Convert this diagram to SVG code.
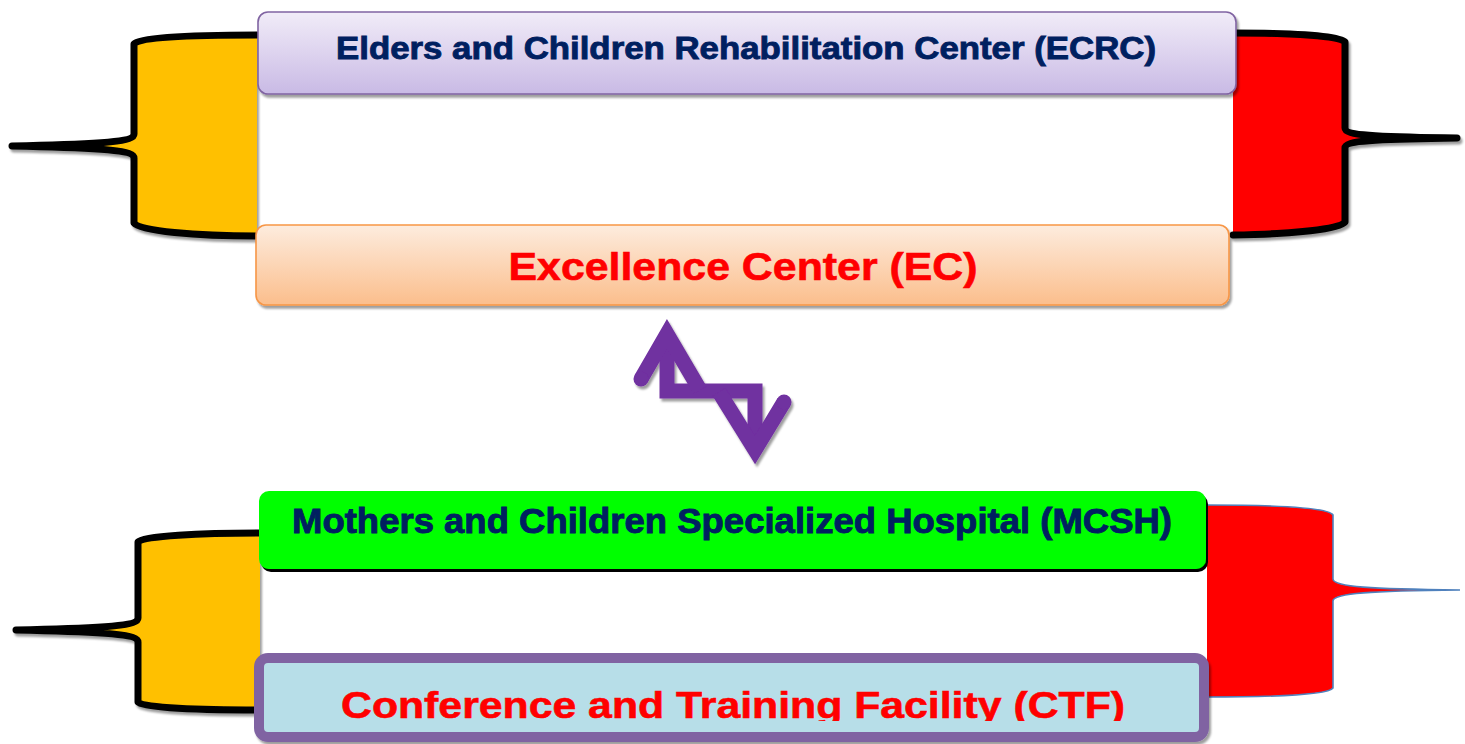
<svg xmlns="http://www.w3.org/2000/svg" width="1465" height="744" viewBox="0 0 1465 744">
<defs>
<linearGradient id="gPurple" x1="0" y1="0" x2="0" y2="1">
<stop offset="0" stop-color="#F1ECF8"/>
<stop offset="1" stop-color="#C9BAE5"/>
</linearGradient>
<linearGradient id="gOrange" x1="0" y1="0" x2="0" y2="1">
<stop offset="0" stop-color="#FDECDE"/>
<stop offset="1" stop-color="#FBBE8C"/>
</linearGradient>
<filter id="shGray" x="-5%" y="-20%" width="110%" height="140%">
<feDropShadow dx="2" dy="3" stdDeviation="0.8" flood-color="#000" flood-opacity="0.38"/>
</filter>
<filter id="shBlack" x="-5%" y="-20%" width="110%" height="140%">
<feDropShadow dx="2" dy="3" stdDeviation="0.5" flood-color="#000" flood-opacity="1"/>
</filter>
<clipPath id="ctfClip"><rect x="262" y="662" width="940" height="59"/></clipPath>
<style>
.brace{stroke:#000;stroke-width:7;stroke-linecap:round;stroke-linejoin:round}
.lbl{font-family:"Liberation Sans",Arial,sans-serif;font-weight:bold;text-anchor:middle}
.navy{fill:#002060;stroke:#002060;stroke-width:0.9}
.red{fill:#FF0000;stroke:#FF0000;stroke-width:0.6}
.arr{fill:none;stroke:#7030A0;stroke-width:15;stroke-linejoin:miter}
</style>
</defs>
<rect width="1465" height="744" fill="#fff"/>

<g id="brace-top-left" filter="url(#shGray)">
<path class="brace" fill="#FFC000" d="M 257 35 C 195 35 140 37 134 44 L 134 134 C 134 141 112 144 12 146 C 112 148 134 151 134 158 L 134 223 C 140 231 195 236 257 236"/>
</g>
<g id="brace-top-right" filter="url(#shGray)">
<path class="brace" fill="#FF0000" d="M 1233 33 C 1295 33 1340 36 1345 42 L 1345 128 C 1345 135 1372 137 1457 138 C 1372 139 1345 141 1345 148 L 1345 222 C 1340 229 1295 234 1233 235"/>
</g>
<g id="brace-bottom-left" filter="url(#shGray)">
<path class="brace" fill="#FFC000" d="M 260 533 C 200 533 143 536 138 542 L 138 618 C 138 625 115 628 16 630 C 115 632 138 635 138 642 L 138 702 C 143 708 200 710 260 710"/>
</g>
<g id="brace-bottom-right">
<path fill="#FF0000" stroke="#4F81BD" stroke-width="1.6" d="M 1207 505 C 1280 505 1329 508 1333 515 L 1333 579 C 1333 587 1372 589 1460 590 C 1372 591 1333 593 1333 601 L 1333 688 C 1329 694 1280 697 1207 697"/>
</g>

<g id="node-ecrc">
<rect x="258" y="12" width="978" height="82" rx="10" fill="url(#gPurple)" stroke="#8064A2" stroke-width="1.6" filter="url(#shGray)"/>
<text class="lbl navy" x="746" y="59" font-size="32" textLength="820" lengthAdjust="spacingAndGlyphs">Elders and Children Rehabilitation Center (ECRC)</text>
</g>

<g id="node-ec">
<rect x="256" y="225" width="973" height="80" rx="10" fill="url(#gOrange)" stroke="#F79646" stroke-width="1.6" filter="url(#shGray)"/>
<text class="lbl red" x="743" y="280" font-size="38" textLength="469" lengthAdjust="spacingAndGlyphs">Excellence Center (EC)</text>
</g>

<g id="connectors">
<g filter="url(#shGray)">
<path class="arr" d="M 667 340 L 667 391 L 755 391 L 755 445"/>
<path class="arr" d="M 641 379 L 667 334 L 700 390"/>
<path class="arr" d="M 719 392 L 755 450 L 784 402"/>
<circle cx="641" cy="379" r="7.5" fill="#7030A0"/>
<circle cx="784" cy="402" r="7.5" fill="#7030A0"/>
</g>
</g>

<g id="node-mcsh">
<rect x="259" y="491" width="947" height="78" rx="10" fill="#00FF00" filter="url(#shBlack)"/>
<text class="lbl navy" x="732" y="533" font-size="35" textLength="880" lengthAdjust="spacingAndGlyphs">Mothers and Children Specialized Hospital (MCSH)</text>
</g>

<g id="node-ctf">
<rect x="259" y="658" width="945" height="79" rx="9" fill="#B7DEE8" stroke="#8064A2" stroke-width="10" filter="url(#shGray)"/>
<text class="lbl red" x="733" y="718" font-size="37" textLength="784" lengthAdjust="spacingAndGlyphs" clip-path="url(#ctfClip)">Conference and Training Facility (CTF)</text>
</g>
</svg>
